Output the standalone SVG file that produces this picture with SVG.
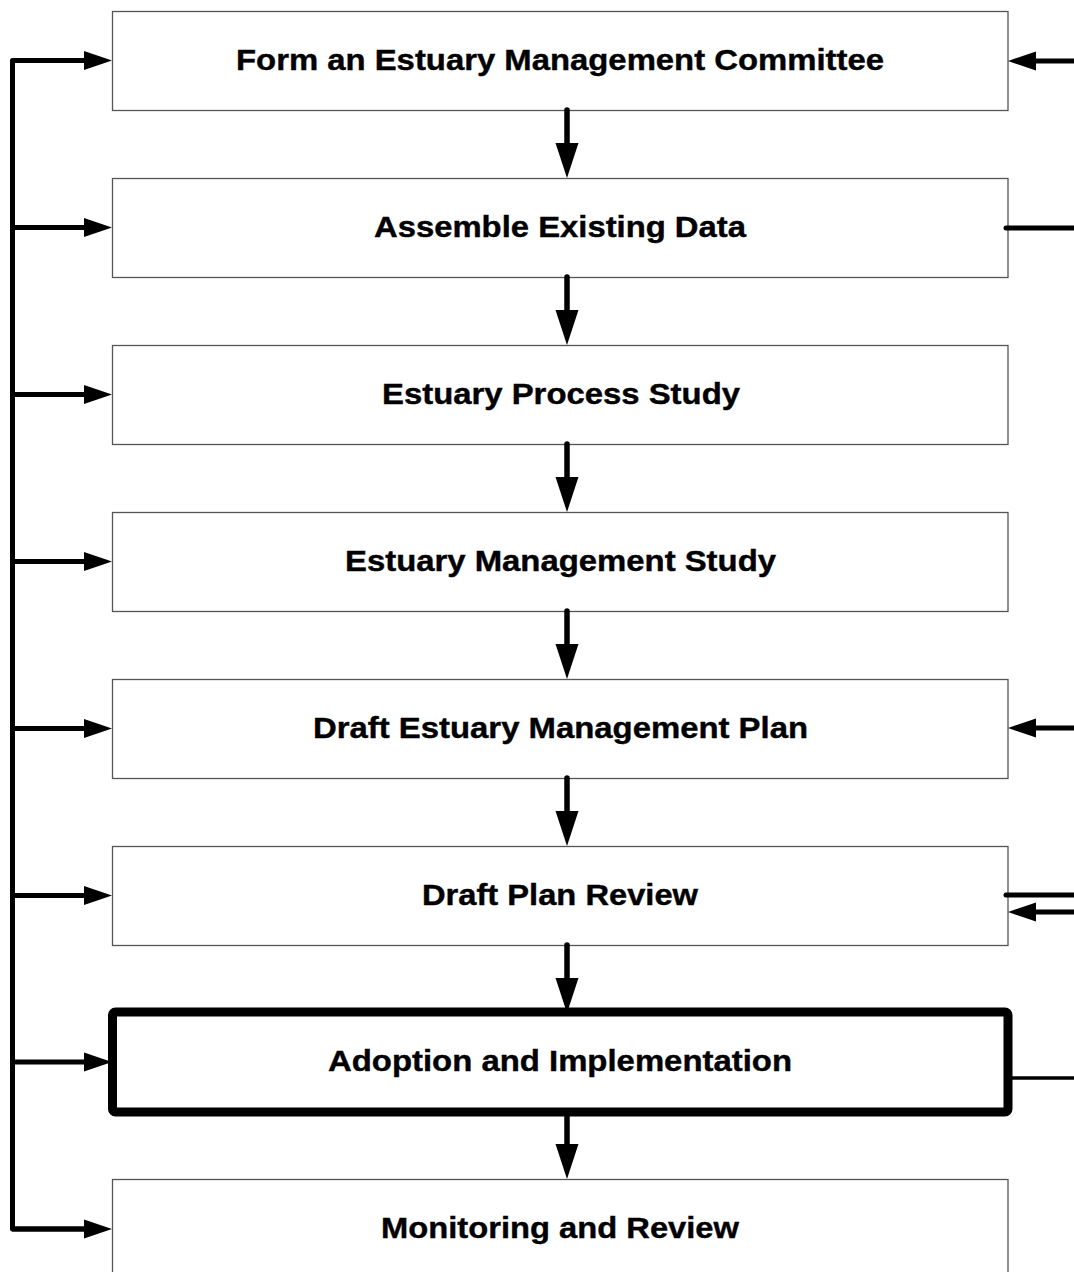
<svg xmlns="http://www.w3.org/2000/svg" width="1074" height="1272" viewBox="0 0 1074 1272">
<style>
.box{fill:#fff;stroke:#555;stroke-width:1.3}
.thick{fill:#fff;stroke:#000;stroke-width:9;stroke-linejoin:round}
.lbl{font-family:"Liberation Sans",Arial,sans-serif;font-weight:bold;font-size:29.5px;fill:#000;stroke:#000;stroke-width:0.4;text-anchor:middle}
.c{fill:none;stroke:#000;stroke-width:5}
.ch{fill:none;stroke:#000;stroke-width:5;marker-end:url(#ah)}
.cd{fill:none;stroke:#000;stroke-width:5.5;stroke-linecap:round;marker-end:url(#ahd)}
</style>
<defs>
<marker id="ah" markerUnits="userSpaceOnUse" markerWidth="28" markerHeight="19" refX="0" refY="9.5" orient="auto" overflow="visible">
<path d="M0,0 L28,9.5 L0,19 z" fill="#000"/>
</marker>
<marker id="ahd" markerUnits="userSpaceOnUse" markerWidth="35" markerHeight="23" refX="0" refY="11.5" orient="auto" overflow="visible">
<path d="M0,0 L35,11.5 L0,23 z" fill="#000"/>
</marker>
</defs>
<rect width="1074" height="1272" fill="#fff"/>

<g id="n1"><rect class="box" x="112.5" y="11.5" width="895.5" height="99"/><text class="lbl" x="560" y="69.5" textLength="648" lengthAdjust="spacingAndGlyphs">Form an Estuary Management Committee</text></g>
<g id="n2"><rect class="box" x="112.5" y="178.5" width="895.5" height="99"/><text class="lbl" x="560" y="236.5" textLength="372" lengthAdjust="spacingAndGlyphs">Assemble Existing Data</text></g>
<g id="n3"><rect class="box" x="112.5" y="345.5" width="895.5" height="99"/><text class="lbl" x="561" y="403.5" textLength="358" lengthAdjust="spacingAndGlyphs">Estuary Process Study</text></g>
<g id="n4"><rect class="box" x="112.5" y="512.5" width="895.5" height="99"/><text class="lbl" x="560.5" y="570.5" textLength="431" lengthAdjust="spacingAndGlyphs">Estuary Management Study</text></g>
<g id="n5"><rect class="box" x="112.5" y="679.5" width="895.5" height="99"/><text class="lbl" x="560.5" y="737.5" textLength="495" lengthAdjust="spacingAndGlyphs">Draft Estuary Management Plan</text></g>
<g id="n6"><rect class="box" x="112.5" y="846.5" width="895.5" height="99"/><text class="lbl" x="560" y="904.5" textLength="276" lengthAdjust="spacingAndGlyphs">Draft Plan Review</text></g>
<g id="n7"><rect class="thick" x="112.5" y="1012" width="895.5" height="100" rx="3"/><text class="lbl" x="560" y="1071" textLength="464" lengthAdjust="spacingAndGlyphs">Adoption and Implementation</text></g>
<g id="n8"><rect class="box" x="112.5" y="1179.5" width="895.5" height="99"/><text class="lbl" x="560" y="1237.5" textLength="358" lengthAdjust="spacingAndGlyphs">Monitoring and Review</text></g>

<g id="connectors">
<path class="c" d="M85,60.5 H12.5 V1229 H85" stroke-linejoin="round"/>
<line class="ch" x1="12" y1="60.5" x2="84" y2="60.5"/>
<line class="ch" x1="12" y1="227.5" x2="84" y2="227.5"/>
<line class="ch" x1="12" y1="394.5" x2="84" y2="394.5"/>
<line class="ch" x1="12" y1="561.5" x2="84" y2="561.5"/>
<line class="ch" x1="12" y1="728.5" x2="84" y2="728.5"/>
<line class="ch" x1="12" y1="895.5" x2="84" y2="895.5"/>
<line class="ch" x1="12" y1="1062" x2="84" y2="1062"/>
<line class="ch" x1="12" y1="1229" x2="84" y2="1229"/>
<line class="cd" x1="567" y1="110" x2="567" y2="143"/>
<line class="cd" x1="567" y1="277" x2="567" y2="310"/>
<line class="cd" x1="567" y1="444" x2="567" y2="477"/>
<line class="cd" x1="567" y1="611" x2="567" y2="644"/>
<line class="cd" x1="567" y1="778" x2="567" y2="811"/>
<line class="cd" x1="567" y1="945" x2="567" y2="978"/>
<line class="cd" x1="567" y1="1117" x2="567" y2="1144"/>
<line class="ch" x1="1074" y1="61" x2="1036" y2="61"/>
<line class="c" x1="1006" y1="228" x2="1074" y2="228" stroke-linecap="round"/>
<line class="ch" x1="1074" y1="728" x2="1036" y2="728"/>
<line class="c" x1="1006" y1="895" x2="1074" y2="895" stroke-linecap="round"/>
<line class="ch" x1="1074" y1="912" x2="1036" y2="912"/>
<line class="c" x1="1012" y1="1078" x2="1074" y2="1078" style="stroke-width:3.5"/>
</g>
</svg>
